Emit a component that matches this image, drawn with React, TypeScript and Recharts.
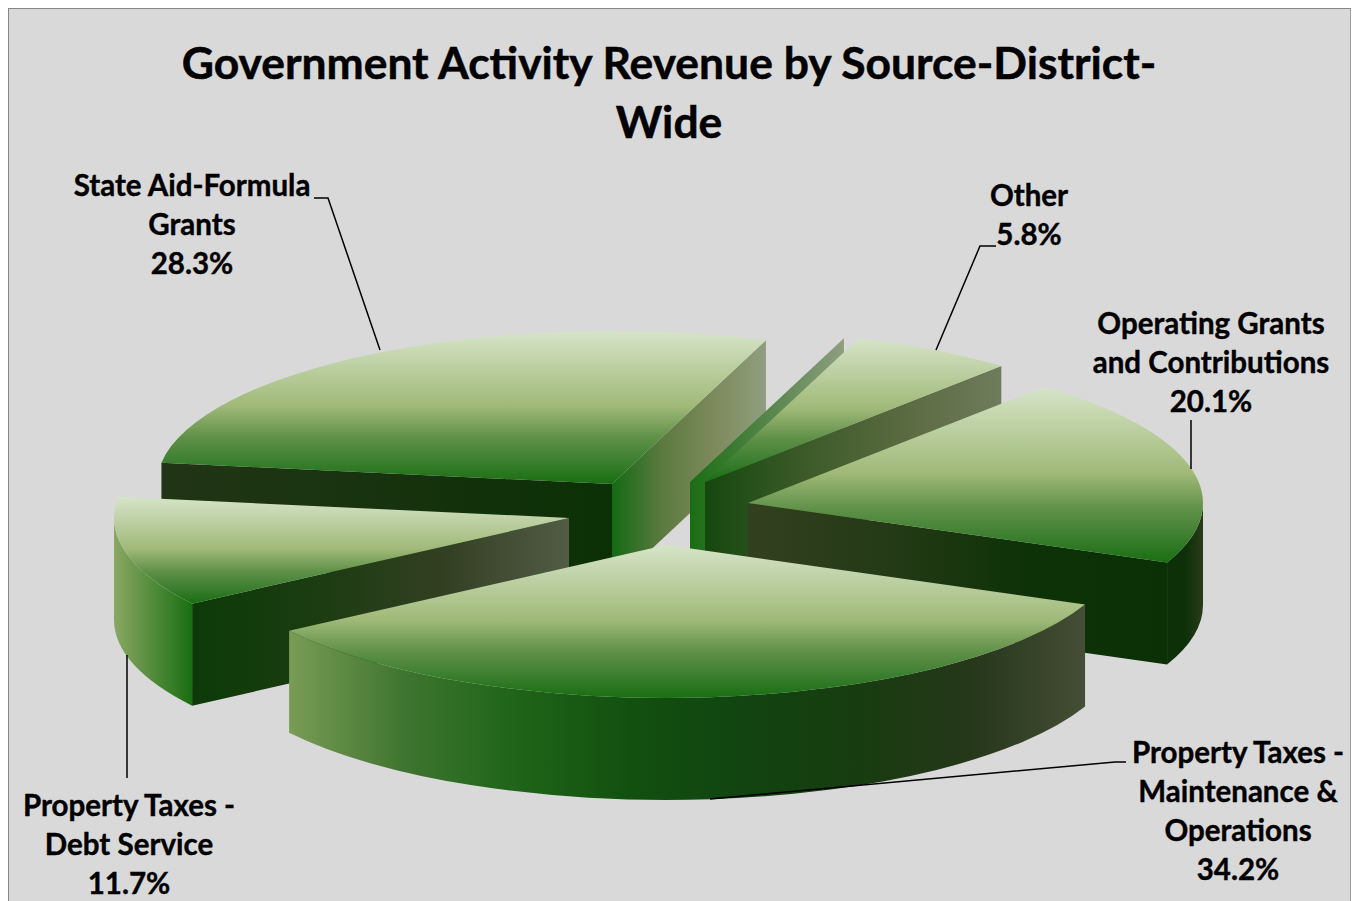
import React from 'react'
import { PieChart, Pie } from 'recharts'

const categories = [
  'State Aid-Formula Grants',
  'Other',
  'Operating Grants and Contributions',
  'Property Taxes - Maintenance & Operations',
  'Property Taxes - Debt Service',
]
const values = [28.3, 5.8, 20.1, 34.2, 11.7]
const titleLines = ['Government Activity Revenue by Source-District-', 'Wide']

const chartData = categories.map((name, i) => ({ name, value: values[i] }))

// pie geometry
const CX = 670
const CY = 510
const RADIUS = 455
const TILT = 0.336
const DEPTH = 102
const FONT = 'Lato, sans-serif'

// how far each slice is pulled out of the centre, in px
const PULL: Record<string, [number, number]> = {
  [categories[0]]: [-58, -26],
  [categories[1]]: [35, -28],
  [categories[2]]: [78, -7],
  [categories[3]]: [-4, 35],
  [categories[4]]: [-101, 8],
}

// side colours, left to right: outer rim, wall at the lower angle, wall at the higher angle
const SIDES: Record<string, { rim: string[]; lo: string[]; hi: string[] }> = {
  [categories[0]]: { rim: ['#223516', '#223516'], lo: ['#146a14', '#5d7a42', '#7d8a5c', '#8f9e80'], hi: ['#223516', '#0b3006'] },
  [categories[1]]: { rim: ['#6b7a58', '#6b7a58'], lo: ['#15480e', '#3c5a28', '#5a6a40', '#6e7c5c'], hi: ['#1a6d14', '#8f9e80'] },
  [categories[2]]: { rim: ['#0d3008', '#0d3008', '#2a3a1a'], lo: ['#33401f', '#243a16', '#0e3208', '#0b3006'], hi: ['#0d3008', '#0d3008'] },
  [categories[3]]: {
    rim: ['#7a9c55', '#3f7530', '#1f6418', '#125010', '#114410', '#183c10', '#26371a', '#454e36'],
    lo: ['#0d3008', '#0d3008'],
    hi: ['#0d3008', '#0d3008'],
  },
  [categories[4]]: { rim: ['#8aa863', '#1a6e12'], lo: ['#0d3008', '#0d3008'], hi: ['#0c3a08', '#1c3c12', '#333f22', '#525c46'] },
}

// label text, anchor and leader line for each slice
const LABELS: Record<string, { lines: string[]; x: number; y: number; leader: string }> = {
  [categories[0]]: { lines: ['State Aid-Formula', 'Grants'], x: 192, y: 196, leader: 'M314 198 L328 198 L380 350' },
  [categories[1]]: { lines: ['Other'], x: 1029, y: 206, leader: 'M996 246 L980 246 L936 350' },
  [categories[2]]: { lines: ['Operating Grants', 'and Contributions'], x: 1211, y: 334, leader: 'M1191 420 L1191 469' },
  [categories[3]]: { lines: ['Property Taxes -', 'Maintenance &', 'Operations'], x: 1238, y: 763, leader: 'M710 799 L1115 762 L1126 762' },
  [categories[4]]: { lines: ['Property Taxes -', 'Debt Service'], x: 129, y: 816, leader: 'M127 655 L127 778' },
}

const gradId = (i: number, part: string) => `side-${i}-${part}`

function stopOffsets(s: string[]) {
  return s.map((color, k) => <stop key={k} offset={k / (s.length - 1)} stopColor={color} />)
}

function Slice3D(props: any) {
  const { cx, cy, outerRadius, startAngle, endAngle, name } = props
  const i = categories.indexOf(name)
  const lo = Math.min(startAngle, endAngle)
  const hi = Math.max(startAngle, endAngle)
  const a = outerRadius
  const b = outerRadius * TILT
  const ax = cx + PULL[name][0]
  const ay = cy + PULL[name][1]
  const rad = (t: number) => (t * Math.PI) / 180
  const px = (t: number) => ax + a * Math.cos(rad(t))
  const py = (t: number) => ay - b * Math.sin(rad(t))
  const large = hi - lo > 180 ? 1 : 0

  const wall = (t: number, shift = 0) =>
    `M${ax + shift} ${ay} L${px(t) + shift} ${py(t)} L${px(t) + shift} ${py(t) + DEPTH} L${ax + shift} ${ay + DEPTH} Z`

  // the rim is only seen on the front half of the ellipse
  const rimLo = Math.max(lo, -180)
  const rimHi = Math.min(hi, 0)

  return (
    <g>
      {/* the small slice shows a sliver of its far wall, set off to the left of the top face */}
      {name === 'Other' && <path d={wall(hi, -15)} fill={`url(#${gradId(i, 'hi')})`} />}
      {rimHi > rimLo && (
        <path
          d={`M${px(rimLo)} ${py(rimLo)} A${a} ${b} 0 0 0 ${px(rimHi)} ${py(rimHi)} L${px(rimHi)} ${py(rimHi) + DEPTH} A${a} ${b} 0 0 1 ${px(rimLo)} ${py(rimLo) + DEPTH} Z`}
          fill={`url(#${gradId(i, 'rim')})`}
        />
      )}
      {/* only walls that face the viewer */}
      {Math.cos(rad(hi)) < 0 && <path d={wall(hi)} fill={`url(#${gradId(i, 'hi')})`} />}
      {Math.cos(rad(lo)) > 0 && <path d={wall(lo)} fill={`url(#${gradId(i, 'lo')})`} />}
      <path
        d={`M${ax} ${ay} L${px(lo)} ${py(lo)} A${a} ${b} 0 ${large} 0 ${px(hi)} ${py(hi)} Z`}
        fill="url(#slice-top)"
      />
    </g>
  )
}

function SliceLabel(props: any) {
  const { name, value } = props
  const l = LABELS[name]
  if (!l) return null
  const rows = [...l.lines, `${value.toFixed(1)}%`]
  return (
    <g>
      <path d={l.leader} fill="none" stroke="#000" strokeWidth={1.5} />
      <text textAnchor="middle" fontFamily={FONT} fontWeight={700} fontSize={29.5} fill="#000" stroke="#000" strokeWidth={0.4}>
        {rows.map((row, k) => (
          <tspan key={k} x={l.x} y={l.y + k * 39}>
            {row}
          </tspan>
        ))}
      </text>
    </g>
  )
}

const FRONT = categories[3]

export default function App() {
  return (
    <div style={{ position: 'absolute', left: 0, top: 0, width: 1353, height: 901, overflow: 'hidden', background: '#fff' }}>
      <div
        style={{
          position: 'absolute',
          left: 8,
          top: 8,
          width: 1343,
          height: 893,
          boxSizing: 'border-box',
          background: '#d9d9d9',
          borderLeft: '1.5px solid #868686',
          borderTop: '1.5px solid #868686',
          borderRight: '1.5px solid #a0a0a0',
        }}
      />
      <div style={{ position: 'absolute', left: 0, top: 0 }}>
        <PieChart width={1353} height={901} margin={{ top: 0, right: 0, bottom: 0, left: 0 }}>
          <defs>
            <linearGradient id="slice-top" x1="0" y1="0" x2="0" y2="1">
              <stop offset="0" stopColor="#d6e4c8" />
              <stop offset="0.49" stopColor="#a0b978" />
              <stop offset="0.7" stopColor="#5f9048" />
              <stop offset="0.85" stopColor="#3c7f30" />
              <stop offset="1" stopColor="#1a6e12" />
            </linearGradient>
            {categories.map((name, i) =>
              (['rim', 'lo', 'hi'] as const).map((part) => (
                <linearGradient key={gradId(i, part)} id={gradId(i, part)} x1="0" y1="0" x2="1" y2="0">
                  {stopOffsets(SIDES[name][part])}
                </linearGradient>
              ))
            )}
          </defs>
          <text textAnchor="middle" fontFamily={FONT} fontWeight={700} fontSize={44.4} fill="#000" stroke="#000" strokeWidth={0.5}>
            {titleLines.map((line, k) => (
              <tspan key={k} x={669} y={79 + k * 59}>
                {line}
              </tspan>
            ))}
          </text>
          {/* everything but the front slice, back to front */}
          <Pie
            data={chartData}
            dataKey="value"
            nameKey="name"
            cx={CX}
            cy={CY}
            outerRadius={RADIUS}
            startAngle={172}
            endAngle={-188}
            stroke="none"
            isAnimationActive={false}
            shape={(p: any) => (p.name === FRONT ? <g /> : <Slice3D {...p} />)}
          />
          {/* front slice goes over the others, and the labels over everything */}
          <Pie
            data={chartData}
            dataKey="value"
            nameKey="name"
            cx={CX}
            cy={CY}
            outerRadius={RADIUS}
            startAngle={172}
            endAngle={-188}
            stroke="none"
            isAnimationActive={false}
            labelLine={false}
            label={(p: any) => <SliceLabel {...p} />}
            shape={(p: any) => (p.name === FRONT ? <Slice3D {...p} /> : <g />)}
          />
        </PieChart>
      </div>
    </div>
  )
}
